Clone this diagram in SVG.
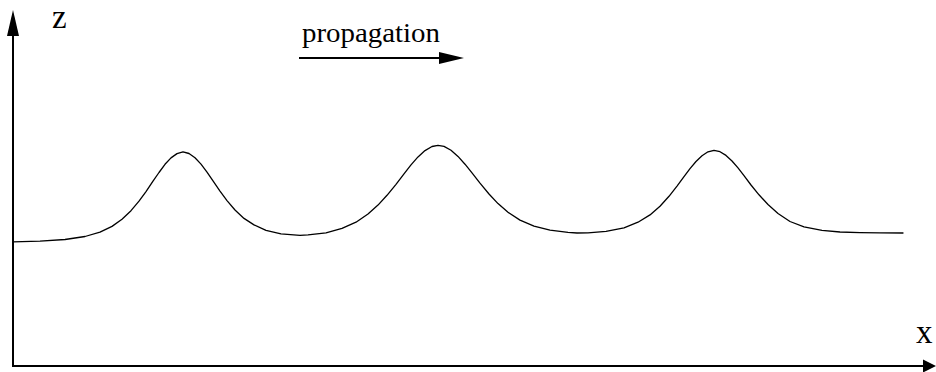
<svg xmlns="http://www.w3.org/2000/svg" width="936" height="372" viewBox="0 0 936 372">
<defs>
<style>
.ax{stroke:#000;stroke-width:2;fill:none}
.hd{fill:#000;stroke:none}
.wave{stroke:#000;stroke-width:1.3;fill:none;stroke-linejoin:round;stroke-linecap:round}
.lbl{font-family:"Liberation Serif","Times New Roman",serif;fill:#000}
</style>
</defs>
<rect width="936" height="372" fill="#fff"/>
<g id="connectors">
<g id="z-axis"><line class="ax" x1="13" y1="367" x2="13" y2="32"/><polygon class="hd" points="13,10 7,36 19,36"/></g>
<g id="x-axis"><line class="ax" x1="12" y1="366" x2="926" y2="366"/><polygon class="hd" points="936,366 923,359.5 923,372.5"/></g>
<g id="propagation-arrow"><line class="ax" x1="299" y1="58" x2="442" y2="58"/><polygon class="hd" points="464,58 439,52 439,64"/></g>
</g>
<g id="wave">
<polyline class="wave" points="13,241.8 40,241.1 65,239.5 85,236.5 100,232.2 112,226.4 122,219.2 131,210.7 139,201.2 146,191.6 153,181.2 159,172.5 165,164.3 171,157.9 177,153.6 183,151.8 189,153.5 195,157.7 201,164.1 207,172.2 213,180.8 220,191.1 227,200.6 235,210 244,218.4 254,224.9 266,230.3 281,233.9 300,235.4 308,234.8 326,232.8 342,228.4 356,222.2 368,214 378,205.1 387,195.3 396,184.3 404,173.8 411,164.9 418,156.9 425,150.6 432,146.5 438,145.3 444,146.4 451,150.3 458,156.4 465,164.2 472,172.9 480,183.2 489,194 498,203.6 508,212.3 520,220.1 534,226.1 550,230.2 568,232.3 577,233 588,232.9 606,231.4 624,227.8 638,222.2 650,214.9 660,206.2 669,196.3 677,186.1 684,176.6 690,168.6 696,161.5 702,155.7 708,151.8 714,150.3 720,151.7 726,155.4 732,161 738,167.9 744,175.7 751,185 759,194.8 768,204.5 778,213.5 790,221.5 804,226.8 822,230.4 840,232 860,232.6 880,232.9 903,233"/>
</g>
<g id="label-z"><text class="lbl" x="52" y="28" font-size="33">z</text></g>
<g id="label-x"><text class="lbl" x="916" y="343" font-size="33">x</text></g>
<g id="label-propagation"><text class="lbl" x="302" y="42" font-size="27" textLength="138" lengthAdjust="spacingAndGlyphs">propagation</text></g>
</svg>
